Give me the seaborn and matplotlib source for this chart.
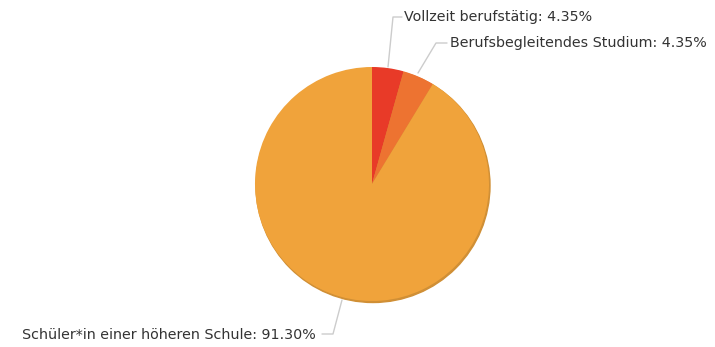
import matplotlib
matplotlib.use("Agg")
import matplotlib.pyplot as plt
import seaborn as sns
from matplotlib.patches import Circle

sns.set_theme(style="white")
plt.rcParams["font.family"] = ["DejaVu Sans"]

categories = ["Vollzeit berufstätig", "Berufsbegleitendes Studium",
              "Schüler*in einer höheren Schule"]
shares = [4.35, 4.35, 91.30]
colors = ["#E83A28", "#ED7331", "#F0A33B"]

W, H = 715, 347
fig = plt.figure(figsize=(W / 100, H / 100), dpi=100)
ax = fig.add_axes([0, 0, 1, 1])
ax.set_xlim(0, W)
ax.set_ylim(H, 0)
ax.set_aspect("equal")
ax.axis("off")

cx, cy, r = 372, 184, 117

# soft shadow under the pie
ax.add_patch(Circle((cx + 1, cy + 1.5), r, color="#D08F35", zorder=1))

# y axis is inverted, so counterclock=True runs clockwise on screen
ax.pie(shares, colors=colors, startangle=-90, counterclock=True,
       center=(cx, cy), radius=r, frame=True,
       wedgeprops=dict(linewidth=0, zorder=2))
ax.set_xlim(0, W)
ax.set_ylim(H, 0)
ax.axis("off")

# labels with their connector paths
labels = [
    (f"{categories[0]}: {shares[0]:.2f}%", [(388, 67), (393, 17), (402, 17)], (404, 17), "left"),
    (f"{categories[1]}: {shares[1]:.2f}%", [(418, 73), (436, 43), (447, 43)], (450, 43), "left"),
    (f"{categories[2]}: {shares[2]:.2f}%", [(342, 300), (333, 334), (322, 334)], (316, 335), "right"),
]
for text, path, pos, ha in labels:
    xs, ys = zip(*path)
    ax.plot(xs, ys, color="#CCCCCC", lw=1, zorder=0)
    ax.text(pos[0], pos[1], text, ha=ha, va="center", fontsize=10.3,
            color="#333333", zorder=3)

fig.savefig("out.png", dpi=100)
